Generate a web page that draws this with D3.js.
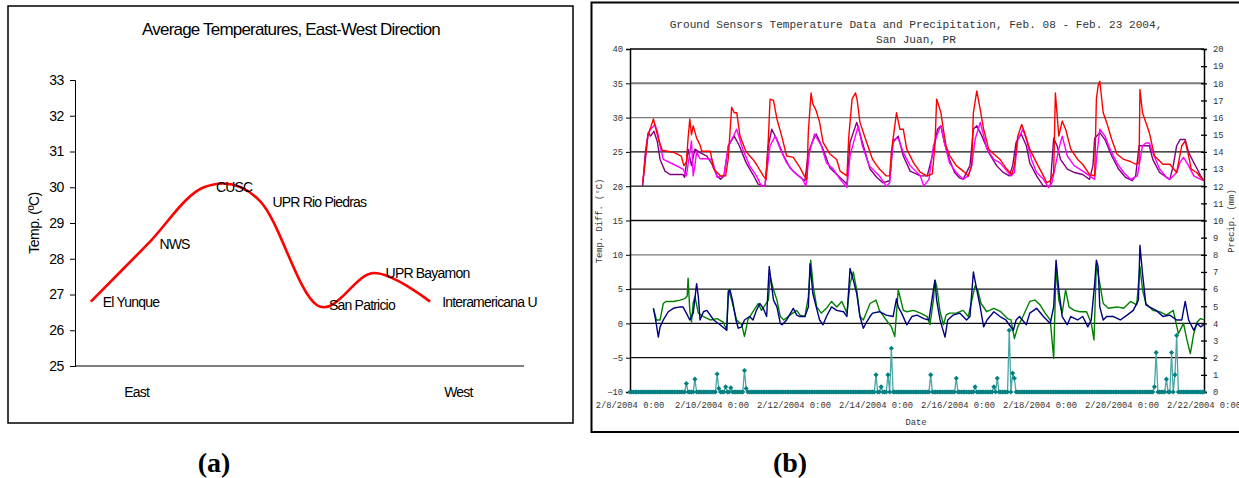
<!DOCTYPE html>
<html>
<head>
<meta charset="utf-8">
<script src="https://cdn.jsdelivr.net/npm/d3@7/dist/d3.min.js"></script>
<style>
  html, body { margin: 0; padding: 0; background: #fff; }
  svg { display: block; }
</style>
</head>
<body>
<script>
// ---------------- DATA ----------------
// Panel (a)
const stations = ["El Yunque", "NWS", "CUSC", "UPR Rio Piedras", "San Patricio", "UPR Bayamon", "Interamericana U"];
const avgTemp = [26.8, 28.4, 30.0, 29.6, 26.7, 27.6, 26.8];
const tempTicksA = [25, 26, 27, 28, 29, 30, 31, 32, 33];

// Panel (b): [hours since 2/8/2004 0:00, value]
const sensorRed = [[7.5,20.5],[9,24],[10.5,27.5],[12,28.5],[13.7,29.8],[15,28.5],[17,26.5],[19,25.2],[22,25.1],[26,24.9],[30,24.4],[31.5,23],[33,23.5],[34,27],[35,29.8],[36,27.5],[37,28.8],[39,27],[41,26],[42,25.1],[47,25.1],[49,22.5],[53,21.5],[56,21.5],[57.5,24],[59.5,31.5],[61,30.7],[62.5,30.7],[64.4,27.3],[68,25],[72,23.9],[74,23.2],[78,21.5],[79.6,21],[81,27],[82,32.7],[84,32.5],[86,29.8],[88.8,27.3],[91.7,24.4],[95.6,24.2],[99.5,22.7],[102,21.5],[103.5,21.0],[104.4,28],[106,33.6],[107,32],[109,31],[111,29.3],[113,26.4],[117,24.7],[121,23.9],[123,22.2],[127,21.5],[128,27],[130,32.7],[132,33.6],[133,32.5],[134.6,29.3],[138.5,26.4],[142,23.9],[146,22.5],[150,21.5],[152,21.5],[153,25],[156,30.7],[158,28.3],[160,28.3],[162,25.4],[166,23.4],[170,22],[174,21.5],[177,21.8],[178.5,26],[179.5,32.7],[181,31.5],[182,30.7],[183.4,28.3],[185,25.9],[187.3,24.4],[191,23],[195,22.2],[198,21.5],[200,23],[201,30.7],[203,33.9],[205,31.2],[207,28.3],[210,25.4],[213,24.7],[216.6,23.9],[220.5,22.5],[223.4,21.7],[225,23],[227,27.3],[229.3,29],[231,27.8],[234,25.4],[238,23.4],[242,21.5],[244,20.5],[246,20.8],[248,22],[249,33.6],[251,27.3],[253,29.5],[255,28.3],[258,25.4],[262,23.9],[265,23.2],[269,21.7],[272,21.5],[273,32.7],[274,34.6],[275,35.3],[277,30.7],[279,29.3],[282,26.8],[285,24.7],[289,23.9],[293,23.6],[296,23.2],[298,23.4],[298.5,34.1],[300,30.7],[302,29.3],[304,27.8],[307,24.4],[312,23.2],[316,23.2],[320,22],[323,25.9],[325,26.6],[327,24.4],[328.5,22.5],[331.7,22],[334,21.3],[336,20.8]];
const sensorMagenta = [[7.5,20.5],[9,24],[10.5,27.5],[12,28.3],[14.6,29],[16,28],[18,25.5],[19.5,23.9],[25.4,23.2],[31,22.5],[33,21.5],[34.5,24],[36,26.6],[37,21.5],[38,23],[39,25],[41,24],[45,24],[48,23.9],[51,21.3],[55,21.5],[57.6,25.9],[60,27],[62.4,28.3],[66,25.4],[70,23],[74,21.5],[77,20],[79,20],[82,25.9],[85,27.3],[88,25.4],[91.7,23.4],[95.6,22.2],[101,21],[103,20],[105,24.9],[108,27.6],[112,25.9],[115,23.4],[119,22.5],[123,21],[127,19.8],[128.8,24.4],[131,26.5],[133.6,28.8],[136,25.9],[140,23],[146,21.5],[150,20],[152,20.5],[154,26.8],[157,27],[160,24.9],[164,23],[170,21.5],[172,20],[175,21],[177.6,25.9],[181,28.3],[182,28.8],[184,26.4],[187,23.4],[191,22],[195,21],[198,21.5],[200,23],[202,26.8],[205,29.3],[209,25.4],[213,23.9],[216.6,23.4],[223,21.5],[225,22],[227,26.8],[230,28.3],[232,26.8],[235,23.9],[238,22],[242,21],[245,19.8],[247,20.5],[251,25.4],[253,27.3],[256,24.4],[260,23],[265,22.2],[269,21.5],[272,21],[273.5,25],[275,28.3],[278,27.3],[281,25.4],[285,23.4],[289,22],[293,21],[297,21.5],[300,25.9],[302,26.3],[304,26.3],[306,24.9],[310,22.5],[314,21.3],[316,21],[320,22],[322,23.5],[324,24.2],[327,23],[330,21.5],[334,21],[336,20.8]];
const sensorPurple = [[7.4,20],[9,25],[10.7,27.8],[12,27.3],[14,28],[16,26.5],[17.6,23.9],[20.5,22.2],[23.4,21.7],[31,21.7],[32,21.3],[34,25.4],[36,23],[38,25.4],[41,24.9],[45,24.4],[48,23.2],[51,21.5],[53,21],[55,21.5],[57.6,25.9],[61,27.3],[64,25.9],[68,23.4],[72,21.7],[75,20.3],[79,20],[81,25.9],[83,28.3],[86,26.8],[90,24.4],[93.6,22.7],[97.6,21.7],[102.4,20.8],[104.4,24.9],[107.3,26.8],[109,27.6],[113,25.4],[117,22.7],[121,21.7],[125,20.8],[127,20.3],[128.8,26.4],[132.7,29.3],[136.6,25.9],[140.5,22.5],[144.4,21.3],[148,20.5],[152,20.8],[154,26.4],[157,27.3],[160,24.4],[164,22.2],[170,21.5],[174,21.5],[177,24.5],[180,28.3],[182,28.8],[184,26.4],[187,23.9],[190,22],[193,21.2],[195,21],[199,23],[201,28.3],[203,28.8],[206,27.3],[210,24.9],[214.6,23],[218.5,22],[222,21.5],[224,23],[226,26.4],[229,27.6],[232,25.9],[234,23.4],[238,21.5],[242,20],[246,20],[248,27],[250,25.9],[252,23.9],[256,22.5],[260,22],[265,21.7],[269,21],[271,23],[272,27],[275,27.8],[278,26.8],[282,24.4],[286,22.5],[290,21.3],[294,20.8],[296,21.5],[298,25.9],[301,25.9],[304,25.9],[306,23.9],[310,22],[314,21.3],[316,21],[318,23],[320,25.9],[322,26.8],[325,26.8],[327,24.9],[332,22.5],[334,21.5],[336,20.8]];
const diffBlue = [[13.7,2.2],[15,0.5],[16.6,-2],[17.6,-0.5],[19.5,0.5],[22.4,1.7],[25.4,2.2],[29.3,2.4],[31,2.4],[33,1.5],[35,0.5],[37,1.5],[39,5.8],[40,3.9],[41,0.5],[43,1.7],[45,1.9],[49,0.5],[52.7,-0.2],[56.6,-1],[57.6,4.6],[58.5,4.9],[60,3.4],[62,0.5],[63.4,-0.7],[65.4,-0.5],[67,0.5],[70,1],[72,0.5],[74,1.9],[76,2.9],[78,2.2],[80,1],[81,6],[81.5,8.3],[83,5.3],[84,3.4],[86,2.4],[88,0],[89,-0.2],[91.7,0.5],[95.6,2.2],[97.6,1.2],[99.5,1],[102.4,1],[104.4,2.4],[105.4,8.7],[107,4.4],[109,2.4],[111,0.5],[113,-0.2],[115,1],[118,2.4],[121,1.9],[125,1.7],[127,1],[128.8,8],[130.7,6.3],[132.7,4.4],[134.6,1],[136.6,-0.7],[138.5,0.2],[140.5,1],[142,1.5],[146,1.7],[150,1.2],[154,1],[156,3.6],[157,2.4],[159,1.5],[162,-0.2],[165,1],[168,1.2],[172,0.7],[175,0.5],[177.6,4.9],[178.5,6.3],[179.5,3.4],[181.5,0.5],[184.4,-2],[186,0.5],[189,1.2],[193,1.5],[197,0.5],[199,1],[201,7.5],[203,4.9],[205,2.4],[207,-0.5],[209,0.5],[213,1.7],[216.6,1],[220,0.5],[224.4,-1],[226,0.5],[228,1],[232,-0.2],[234,1.5],[238,2.2],[242,1],[246,0],[248,2.4],[249.4,9.2],[251,4.9],[253,1],[256,-0.2],[258,1],[262,0.5],[265,1],[268,-0.5],[270,0.5],[272,5.8],[273,9.2],[274,8.3],[275,2.4],[277,0.5],[279,1],[283,1],[287,0.5],[291,1.2],[294.6,1.9],[297.6,3.4],[298.5,11.4],[300,7.3],[302,2.7],[304,2.4],[308,1.9],[312,1],[316,1.2],[320,0.5],[323,0.5],[325,3.2],[327,0.5],[330,-1],[332,0],[334,-0.5],[336,-0.2]];
const diffGreen = [[13.7,2.2],[15.5,0.5],[17.6,0.5],[19.5,2.9],[21,3.2],[25.4,3.2],[29.3,3.4],[32,3.6],[33.5,4],[34,6.6],[35,1.9],[36,0.2],[37,3],[38,3.9],[40,1.5],[43,1],[47,0.5],[51,0.7],[54.6,0.2],[56.6,-1],[57.6,4.9],[59.5,3.4],[62.4,0.5],[65.4,-0.2],[67,-1.9],[69,0.5],[72,1.7],[75,2.9],[77,1.9],[81,3.4],[82,6.8],[84,4.9],[86,3.4],[88,1],[90,0.5],[93.6,1.2],[97.6,1.9],[99.5,1.2],[102.4,1],[104.4,3.9],[105.8,9.2],[107.3,5.3],[109.3,2.4],[112,1.5],[115,2.2],[118,3.2],[121,2.4],[124,3.2],[127,1.5],[128.8,5.8],[130.7,7.5],[132.7,4.9],[134.6,1],[136.6,0.5],[140.5,2.9],[144,3.4],[146,1.9],[150,0.5],[153,-0.5],[155,-1.9],[157,4.9],[160,1.9],[162,1.7],[166,1.9],[170,1.5],[174,1],[175.6,-0.2],[177.6,3.4],[178.5,6.3],[179.5,5.5],[181.5,1.7],[183.5,-0.2],[185,1.2],[187,1.5],[191,1.5],[195,1.9],[198,1],[202,5.5],[203.5,4.9],[205.5,2.9],[208.8,1.7],[213,2.2],[217,1.7],[221,0.7],[223,0.5],[225,-2.2],[227,-0.5],[230,1],[234,3.2],[237,3.4],[240,2.7],[243,1.5],[246,0.5],[248,-5.1],[249.4,8.3],[251,3.4],[253,1.5],[255,4.9],[257,2.4],[260,1.9],[263.4,1.7],[267.3,1.7],[270,0],[271.6,-2.4],[273,8.7],[275,5.8],[277,2.9],[280,2.2],[285,2.4],[289,2.2],[293,3.2],[296.6,2.7],[298.5,8.3],[300,4.9],[302,2.9],[306,1.9],[310,1.7],[314,1.2],[318,1.9],[321,-1.5],[324,0],[326,-2.4],[328,-4.4],[330,-1.5],[332,0.2],[334,0.7],[336,0.5]];
// hourly precipitation record: zero except these hours
const precipHours = d3.range(0, 337);
const precipEvents = [[33,0.5],[38,0.75],[51,1.05],[52,0.2],[56,0.3],[59,0.25],[67,1.25],[68,0.2],[144,1.0],[147,0.3],[151,1.0],[153,2.55],[176,1.0],[191,0.8],[202,0.3],[213,0.3],[215,0.8],[222,3.6],[224,1.1],[225,0.8],[307,0.3],[308,2.3],[314,0.75],[317,2.3],[319,1.0],[320,3.3]];
const tempTicksB = [-10, -5, 0, 5, 10, 15, 20, 25, 30, 35, 40];
const precipTicks = d3.range(0, 21);
const dateTicks = [8, 10, 12, 14, 16, 18, 20, 22];

// ---------------- DRAW ----------------
const W = 1239, H = 478;
const svg = d3.select("body").append("svg").attr("width", W).attr("height", H);
const sans = "'Liberation Sans', Arial, sans-serif";
const mono = "'Liberation Mono', 'Courier New', monospace";

// ===== Panel (a) =====
const gA = svg.append("g");
gA.append("rect").attr("x", 8).attr("y", 6).attr("width", 565).attr("height", 417)
  .attr("fill", "none").attr("stroke", "#000").attr("stroke-width", 1.5);
gA.append("text").attr("x", 291).attr("y", 34.5).attr("text-anchor", "middle")
  .attr("font-family", sans).attr("font-size", 17).attr("letter-spacing", -0.8)
  .text("Average Temperatures, East-West Direction");

const xA = d3.scaleLinear().domain([-0.28, 7.66]).range([75, 524]);
const yA = d3.scaleLinear().domain([25, 33]).range([366, 80]);

const axA = gA.append("g").attr("transform", "translate(75,0)")
  .call(d3.axisLeft(yA).tickValues(tempTicksA).tickSize(5).tickFormat(d3.format("d")));
axA.select(".domain").attr("stroke", "#000");
axA.selectAll("text").attr("font-family", sans).attr("font-size", 14).attr("fill", "#000")
  .attr("dx", -3).attr("letter-spacing", -0.4);
gA.append("line").attr("x1", 75).attr("x2", 524).attr("y1", yA(25)).attr("y2", yA(25))
  .attr("stroke", "#000").attr("stroke-width", 1);

gA.append("text").attr("transform", `translate(39,${(yA(25)+yA(33))/2}) rotate(-90)`)
  .attr("text-anchor", "middle").attr("font-family", sans).attr("font-size", 14)
  .attr("letter-spacing", -0.5).text("Temp. (ºC)");

gA.append("text").attr("x", xA(0.81)).attr("y", 397).attr("text-anchor", "middle")
  .attr("font-family", sans).attr("font-size", 14).attr("letter-spacing", -0.8).text("East");
gA.append("text").attr("x", xA(6.5)).attr("y", 397).attr("text-anchor", "middle")
  .attr("font-family", sans).attr("font-size", 14).attr("letter-spacing", -0.8).text("West");

const lineA = d3.line().x((d, i) => xA(i)).y(d => yA(d)).curve(d3.curveCardinal.tension(0));
gA.append("path").attr("d", lineA(avgTemp)).attr("fill", "none").attr("stroke", "#ff0000").attr("stroke-width", 2.6);

gA.selectAll(".lbl").data(stations).enter().append("text")
  .attr("x", (d, i) => xA(i) + 12).attr("y", (d, i) => yA(avgTemp[i]) + 5)
  .attr("font-family", sans).attr("font-size", 14).attr("letter-spacing", -0.8).text(d => d);

svg.append("text").attr("x", 214).attr("y", 472).attr("text-anchor", "middle")
  .attr("font-family", "'Liberation Serif', 'Times New Roman', serif").attr("font-weight", "bold")
  .attr("font-size", 28).text("(a)");

// ===== Panel (b) =====
const gB = svg.append("g");
gB.append("rect").attr("x", 591.5).attr("y", 2.5).attr("width", 700).attr("height", 429.5)
  .attr("fill", "none").attr("stroke", "#000").attr("stroke-width", 2);

const t0 = Date.UTC(2004, 1, 8);
const toDate = h => new Date(t0 + h * 3600e3);
const xB = d3.scaleUtc().domain([toDate(0), toDate(336)]).range([630, 1204]);
const yB = d3.scaleLinear().domain([-10, 40]).range([392, 49]);
const yP = d3.scaleLinear().domain([0, 20]).range([392, 49]);

gB.append("text").attr("x", 916).attr("y", 28).attr("text-anchor", "middle")
  .attr("font-family", mono).attr("font-size", 11.1).attr("fill", "#333")
  .text("Ground Sensors Temperature Data and Precipitation, Feb. 08 - Feb. 23 2004,");
gB.append("text").attr("x", 916).attr("y", 43).attr("text-anchor", "middle")
  .attr("font-family", mono).attr("font-size", 11.1).attr("fill", "#333").text("San Juan, PR");

// gridlines
const grayGrid = new Set([35, 30, 10]);
gB.selectAll(".grid").data(tempTicksB.filter(v => v > -10 && v < 40)).enter().append("line")
  .attr("x1", 630).attr("x2", 1204).attr("y1", d => yB(d)).attr("y2", d => yB(d))
  .attr("stroke", d => grayGrid.has(d) ? "#7a7a7a" : "#111")
  .attr("stroke-width", d => d === 35 ? 2 : 1.3);
gB.append("line").attr("x1", 630).attr("x2", 1204).attr("y1", yB(40)).attr("y2", yB(40))
  .attr("stroke", "#000").attr("stroke-width", 1.3);

// left axis
const axL = gB.append("g").attr("transform", "translate(630,0)")
  .call(d3.axisLeft(yB).tickValues(tempTicksB).tickSize(4).tickPadding(3));
axL.select(".domain").attr("stroke", "#000").attr("stroke-width", 1.5);
axL.selectAll("text").attr("font-family", mono).attr("font-size", 8.8).attr("fill", "#333");
// right axis
const axR = gB.append("g").attr("transform", "translate(1204,0)")
  .call(d3.axisRight(yP).tickValues(precipTicks).tickSize(3).tickPadding(6));
axR.select(".domain").attr("stroke", "#000").attr("stroke-width", 1.5);
axR.selectAll(".tick line").attr("x1", -3).attr("stroke-width", 1.3);
axR.selectAll("text").attr("font-family", mono).attr("font-size", 8.8).attr("fill", "#333");

// bottom date labels
const fmt = d3.utcFormat("%-m/%-d/%Y %-H:%M");
gB.selectAll(".dlab").data(dateTicks).enter().append("text")
  .attr("x", d => xB(new Date(Date.UTC(2004, 1, d)))).attr("y", 408)
  .attr("text-anchor", "middle").attr("font-family", mono).attr("font-size", 8.8).attr("fill", "#333")
  .text(d => fmt(new Date(Date.UTC(2004, 1, d))));
gB.append("text").attr("x", 916).attr("y", 425).attr("text-anchor", "middle")
  .attr("font-family", mono).attr("font-size", 8.8).attr("fill", "#333").text("Date");

gB.append("text").attr("transform", `translate(602,221) rotate(-90)`).attr("text-anchor", "middle")
  .attr("font-family", mono).attr("font-size", 8.8).attr("fill", "#333").text("Temp. Diff. (°C)");
gB.append("text").attr("transform", `translate(1234,221) rotate(-90)`).attr("text-anchor", "middle")
  .attr("font-family", mono).attr("font-size", 8.8).attr("fill", "#333").text("Precip. (mm)");

// lines
const lineB = d3.line().x(d => xB(toDate(d[0]))).y(d => yB(d[1]));
const series = [
  { data: diffGreen, color: "#008000", w: 1.4 },
  { data: diffBlue, color: "#000080", w: 1.4 },
  { data: sensorPurple, color: "#800080", w: 1.4 },
  { data: sensorMagenta, color: "#ff00ff", w: 1.4 },
  { data: sensorRed, color: "#ff0000", w: 1.4 }
];
gB.selectAll(".ser").data(series).enter().append("path")
  .attr("d", d => lineB(d.data)).attr("fill", "none")
  .attr("stroke", d => d.color).attr("stroke-width", d => d.w).attr("stroke-linejoin", "round");

// precipitation
const evMap = new Map(precipEvents.map(d => [d[0], d[1]]));
const precip = precipHours.map(h => [h, evMap.has(h) ? evMap.get(h) : 0]);
const lineP = d3.line().x(d => xB(toDate(d[0]))).y(d => yP(d[1]));
gB.append("path").attr("d", lineP(precip)).attr("fill", "none")
  .attr("stroke", "#4aa6a6").attr("stroke-width", 1.3);
const diamond = d3.symbol().type(d3.symbolSquare).size(13);
gB.selectAll(".pm").data(precip).enter().append("path")
  .attr("d", diamond)
  .attr("transform", d => `translate(${xB(toDate(d[0]))},${yP(d[1])}) rotate(45)`)
  .attr("fill", "#008080");

svg.append("text").attr("x", 790).attr("y", 472).attr("text-anchor", "middle")
  .attr("font-family", "'Liberation Serif', 'Times New Roman', serif").attr("font-weight", "bold")
  .attr("font-size", 28).text("(b)");
</script>
</body>
</html>
